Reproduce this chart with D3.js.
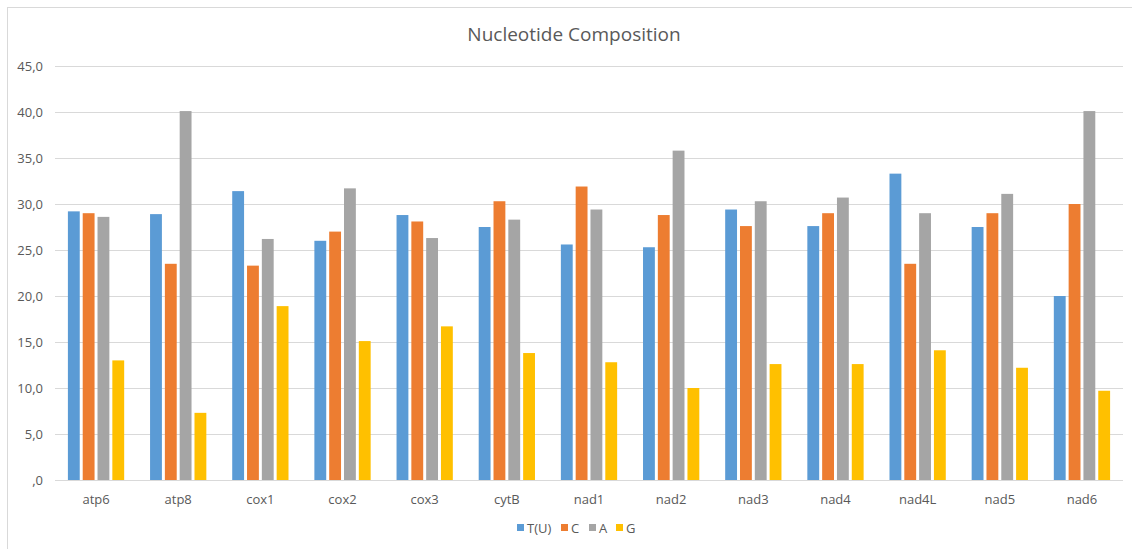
<!DOCTYPE html>
<html>
<head>
<meta charset="utf-8">
<script src="https://cdn.jsdelivr.net/npm/d3@7"></script>
<style>
  body { margin: 0; background: #fff; }
  svg text { font-family: "Open Sans", "Noto Sans", sans-serif; fill: #595959; }
</style>
</head>
<body>
<div id="chart-area"><svg></svg></div>
<script>
const genes = ["atp6", "atp8", "cox1", "cox2", "cox3", "cytB", "nad1", "nad2", "nad3", "nad4", "nad4L", "nad5", "nad6"];
const seriesNames = ["T(U)", "C", "A", "G"];
const tValues = [29.2, 28.9, 31.4, 26.0, 28.8, 27.5, 25.6, 25.3, 29.4, 27.6, 33.3, 27.5, 20.0];
const cValues = [29.0, 23.5, 23.3, 27.0, 28.1, 30.3, 31.9, 28.8, 27.6, 29.0, 23.5, 29.0, 30.0];
const aValues = [28.6, 40.1, 26.2, 31.7, 26.3, 28.3, 29.4, 35.8, 30.3, 30.7, 29.0, 31.1, 40.1];
const gValues = [13.0, 7.3, 18.9, 15.1, 16.7, 13.8, 12.8, 10.0, 12.6, 12.6, 14.1, 12.2, 9.7];
const yTicks = [0, 5, 10, 15, 20, 25, 30, 35, 40, 45];

const colours = ["#5b9bd5", "#ed7d31", "#a5a5a5", "#ffc000"];
const chartSize = { width: 1132, height: 549 };
const plot = { left: 55, right: 1123, top: 66, bottom: 480 };

const main = () => {
  const allSeries = [tValues, cValues, aValues, gValues];
  const rows = genes.map((g, i) => ({
    gene: g,
    values: seriesNames.map((s, k) => ({ key: s, value: allSeries[k][i] }))
  }));

  const svg = d3.select("#chart-area svg")
    .attr("width", chartSize.width)
    .attr("height", chartSize.height);

  // chart frame
  svg.append("rect")
    .attr("x", 7.5).attr("y", 7.5)
    .attr("width", 1140).attr("height", 560)
    .attr("fill", "#fff")
    .attr("stroke", "#d9d9d9");

  svg.append("text")
    .attr("x", 574).attr("y", 41)
    .attr("text-anchor", "middle")
    .attr("font-size", 19)
    .text("Nucleotide Composition");

  const y = d3.scaleLinear().domain([0, 45]).range([plot.bottom, plot.top]);
  const x0 = d3.scaleBand().domain(genes).range([plot.left, plot.right])
    .paddingInner(0.315).paddingOuter(0.157);
  const x1 = d3.scaleBand().domain(seriesNames).range([0, x0.bandwidth()]).padding(0.2).paddingOuter(0);
  const colour = d3.scaleOrdinal().domain(seriesNames).range(colours);

  // gridlines
  svg.append("g")
    .selectAll("line")
    .data(yTicks)
    .join("line")
    .attr("x1", plot.left).attr("x2", plot.right)
    .attr("y1", d => Math.round(y(d)) + 0.5)
    .attr("y2", d => Math.round(y(d)) + 0.5)
    .attr("stroke", "#d9d9d9")
    .attr("stroke-width", 1.2);

  svg.append("g")
    .selectAll("text")
    .data(yTicks)
    .join("text")
    .attr("x", 43)
    .attr("y", d => y(d) + 4.5)
    .attr("text-anchor", "end")
    .attr("font-size", 13)
    .text(d => d3.format(".1f")(d).replace(/^0/, "").replace(".", ","));

  const groups = svg.append("g")
    .selectAll("g")
    .data(rows)
    .join("g")
    .attr("transform", d => `translate(${x0(d.gene)},0)`);

  groups.selectAll("rect")
    .data(d => d.values)
    .join("rect")
    .attr("x", d => x1(d.key))
    .attr("y", d => y(d.value))
    .attr("width", x1.bandwidth())
    .attr("height", d => y(0) - y(d.value))
    .attr("fill", d => colour(d.key));

  // x labels
  svg.append("g")
    .selectAll("text")
    .data(genes)
    .join("text")
    .attr("x", d => x0(d) + x0.bandwidth() / 2)
    .attr("y", 504)
    .attr("text-anchor", "middle")
    .attr("font-size", 13)
    .text(d => d);

  // legend
  const legendX = [517, 561, 589, 616];
  const legend = svg.append("g")
    .selectAll("g")
    .data(seriesNames)
    .join("g")
    .attr("transform", (d, i) => `translate(${legendX[i]},528)`);
  legend.append("rect")
    .attr("x", 0).attr("y", -4)
    .attr("width", 7).attr("height", 7)
    .attr("fill", d => colour(d));
  legend.append("text")
    .attr("x", 10).attr("y", 4.5)
    .attr("font-size", 13)
    .text(d => d);
};

window.onload = main;
</script>
</body>
</html>
